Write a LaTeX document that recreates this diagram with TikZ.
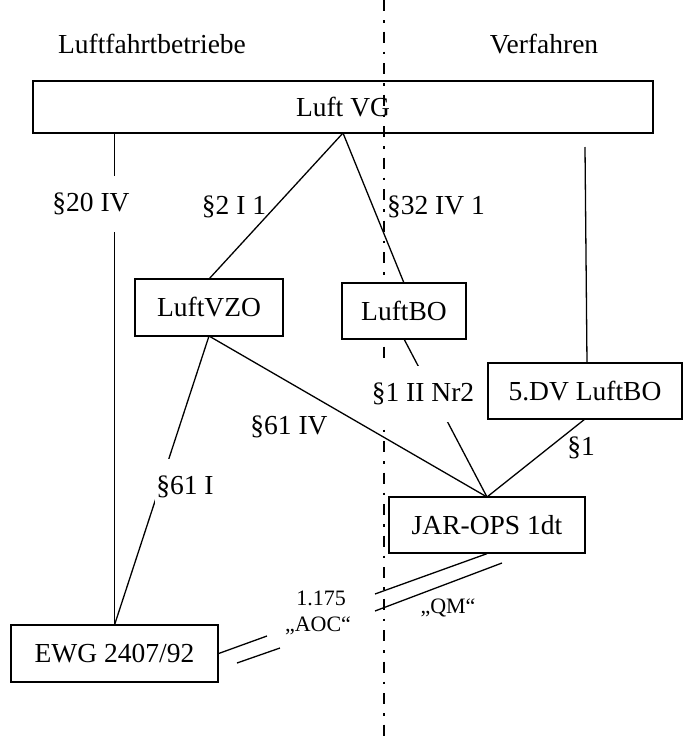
\documentclass[tikz,border=0pt]{standalone}
\usepackage{fontspec}
\setmainfont{Liberation Serif}
\begin{document}
\begin{tikzpicture}[x=1pt,y=-1pt,
  box/.style={draw,line width=1.3pt,fill=white,inner sep=0pt,font=\fontsize{27.5}{30}\selectfont},
  lbl/.style={inner sep=0pt,font=\fontsize{27.5}{30}\selectfont},
  cut/.style={fill=white,inner xsep=1pt,inner ysep=0pt,font=\fontsize{27.5}{30}\selectfont},
  small/.style={inner sep=0pt,font=\fontsize{22}{24}\selectfont},
  conn/.style={line width=1.3pt},
  axis/.style={line width=1.3pt,dash pattern=on 11pt off 9pt on 2.5pt off 9pt}]
\useasboundingbox (0,0) rectangle (683,737);
% headers
\node[lbl] (hl) at (152,44) {Luftfahrtbetriebe};
\node[lbl] (hr) at (544,44) {Verfahren};
% top box
\node[box,fill=none,minimum width=620pt,minimum height=52pt] (vg) at (343,107) {Luft VG};
% dash-dot separator
\coordinate (axt) at (384,0);
\coordinate (axb) at (384,737);
\draw[axis] (axt) -- (axb);
% connectors (drawn before the boxes)
\coordinate (ewgtop) at (114.5,625);
\draw[conn] (ewgtop |- 0,133) -- (ewgtop);
\draw[conn] (343,133) -- (209,279);
\draw[conn] (343,133) -- (404,283);
\draw[conn] (585,147) -- (587,363);
\draw[conn] (209,336) -- (487,497);
\draw[conn] (209,336) -- (ewgtop);
\draw[conn] (404,339) -- (487,497);
\draw[conn] (585,419) -- (487,497);
% boxes
\node[box,minimum width=148pt,minimum height=57pt] (vzo) at (209,307.5) {LuftVZO};
\node[box,minimum width=124pt,minimum height=56pt] (lbo) at (404,311) {LuftBO};
\node[box,minimum width=194pt,minimum height=56pt] (dv) at (585,391) {5.DV LuftBO};
\node[box,minimum width=196pt,minimum height=56pt] (jar) at (487,525) {JAR-OPS 1dt};
\node[box,minimum width=207pt,minimum height=57pt] (ewg) at (114.5,653.5) {EWG 2407/92};
% labels
\node[cut,minimum height=56pt] (l20) at (91,204) {§20 IV};
\node[lbl] (l21) at (234,207) {§2 I 1};
\node[lbl] (l32) at (436,207) {§32 IV 1};
\node[cut,minimum height=56pt] (l1ii) at (423,394) {§1 II Nr2};
\node[lbl] (l61iv) at (289,427) {§61 IV};
\node[lbl] (l1) at (581,448) {§1};
\node[cut,minimum height=57pt] (l61i) at (185,487) {§61 I};
% double connection JAR-OPS -- EWG
\coordinate (a1) at (267,636);
\coordinate (a2) at (237,663);
\coordinate (a3) at (280,648);
\coordinate (b1) at (375,594);
\coordinate (b2) at (375,611);
\coordinate (b3) at (502,563);
\draw[conn] (ewg.east) -- (a1);
\draw[conn] (a2) -- (a3);
\draw[conn] (b1) -- (jar.south);
\draw[conn] (b2) -- (b3);
\node[small] (n1175) at (321,598) {1.175};
\node[small] (naoc) at (318,626) {„AOC“};
\node[small] (nqm) at (448,608) {„QM“};
\end{tikzpicture}
\end{document}
